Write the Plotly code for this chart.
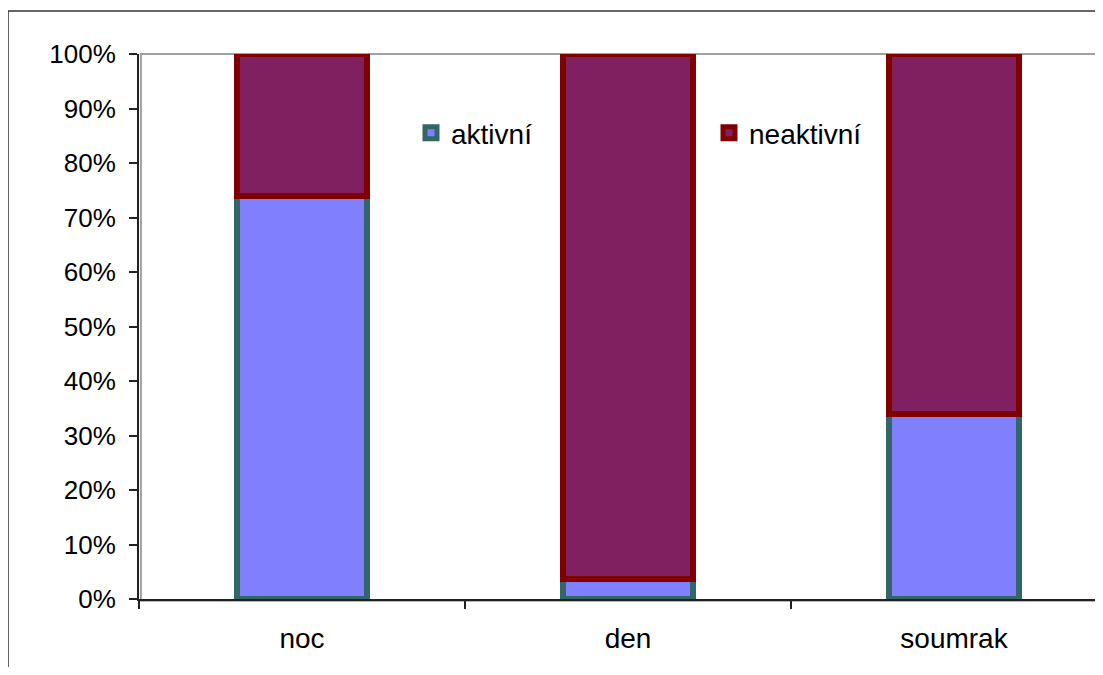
import plotly.graph_objects as go

categories = ["noc", "den", "soumrak"]
aktivni = [74, 3.6, 34]
neaktivni = [26, 96.4, 66]
y_tick_values = [0, 10, 20, 30, 40, 50, 60, 70, 80, 90, 100]
y_tick_labels = ["0%", "10%", "20%", "30%", "40%", "50%", "60%", "70%", "80%", "90%", "100%"]

OFF = 8  # page body margin
W, H = 1103 - 2 * OFF, 675 - 2 * OFF
L, T = 139 - OFF, 54 - OFF
plot_h = 599 - 54
B = H - T - plot_h
plot_w = W - L
cat_px = 326.0
x_max = -0.5 + plot_w / cat_px

FONT = "Liberation Sans, Arial, sans-serif"

fig = go.Figure()
fig.add_trace(go.Bar(
    x=categories, y=aktivni, name="aktivní", width=0.4,
    marker=dict(color="#8080FF", line=dict(color="#336666", width=6)),
    legend="legend",
))
fig.add_trace(go.Bar(
    x=categories, y=neaktivni, name="neaktivní", width=0.4,
    marker=dict(color="#802060", line=dict(color="#800000", width=6)),
    legend="legend2",
))

def px_x(p):
    return (p - OFF - L) / plot_w

def px_y(p):
    return (T + plot_h - (p - OFF)) / plot_h

# outer chart border
fig.add_shape(type="rect", xref="paper", yref="paper",
              x0=px_x(8), x1=px_x(1103 + 60), y0=px_y(675 + 60), y1=px_y(11),
              line=dict(color="#333333", width=1.5), layer="below")
# plot-area frame (grey)
fig.add_shape(type="rect", xref="paper", yref="paper",
              x0=0.002, x1=1.05, y0=-0.003, y1=1,
              line=dict(color="#A0A0A0", width=2), layer="below")

fig.update_layout(
    width=W, height=H,
    margin=dict(l=L, r=0, t=T, b=B, pad=0),
    paper_bgcolor="white", plot_bgcolor="white",
    barmode="stack",
    font=dict(family=FONT, size=26, color="black"),
    showlegend=True,
    legend=dict(x=px_x(411), y=px_y(133), xanchor="left", yanchor="middle",
                bgcolor="rgba(0,0,0,0)", font=dict(size=28), itemwidth=30),
    legend2=dict(x=px_x(709), y=px_y(133), xanchor="left", yanchor="middle",
                 bgcolor="rgba(0,0,0,0)", font=dict(size=28), itemwidth=30),
    xaxis=dict(range=[-0.5, x_max], showgrid=False, showline=True,
               linecolor="#222222", linewidth=2, ticks="outside",
               tickson="boundaries", ticklen=8, tickwidth=1.5, tickcolor="#222222",
               ticklabelstandoff=13, zeroline=False, tickfont=dict(size=28)),
    yaxis=dict(range=[0, 100], tickmode="array", tickvals=y_tick_values,
               ticktext=y_tick_labels,
               showgrid=False, showline=True, linecolor="#222222", linewidth=2,
               ticks="outside", ticklen=8, tickwidth=1.5, tickcolor="#222222",
               ticklabelstandoff=8, zeroline=False, tickfont=dict(size=26)),
)

fig.write_html("out.html")
